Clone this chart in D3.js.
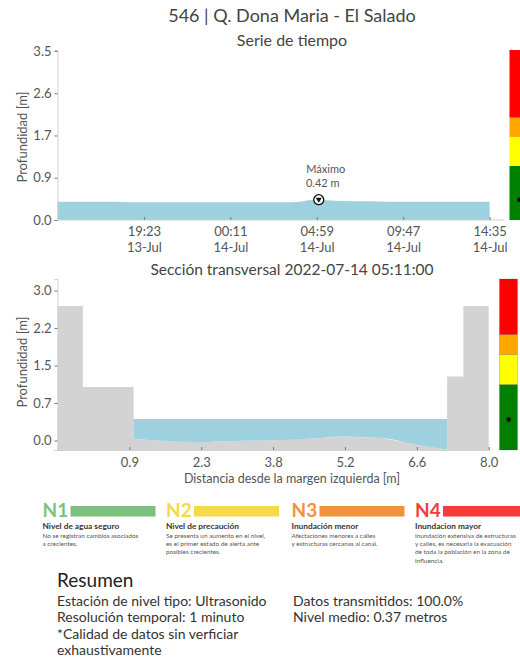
<!DOCTYPE html>
<html><head><meta charset="utf-8">
<script src="https://cdn.jsdelivr.net/npm/d3@7"></script>
<style>
html,body{margin:0;padding:0;background:#fff;overflow:hidden;}
svg{display:block;font-family:Lato,"Open Sans",sans-serif;}
</style></head>
<body><svg id="c" width="520" height="660"></svg>
<script>
// ---------- DATA ----------
const seriesTimes = ["2022-07-13T14:35","2022-07-13T15:35","2022-07-13T16:35","2022-07-13T17:35","2022-07-13T18:35","2022-07-13T19:35","2022-07-13T20:35","2022-07-13T21:35","2022-07-13T22:35","2022-07-13T23:35","2022-07-14T00:35","2022-07-14T01:35","2022-07-14T02:35","2022-07-14T03:35","2022-07-14T04:05","2022-07-14T04:30","2022-07-14T04:59","2022-07-14T05:30","2022-07-14T06:00","2022-07-14T07:00","2022-07-14T08:00","2022-07-14T09:00","2022-07-14T10:00","2022-07-14T11:00","2022-07-14T12:00","2022-07-14T13:00","2022-07-14T14:00","2022-07-14T14:35"];
const seriesDepth = [0.38,0.38,0.38,0.38,0.37,0.37,0.37,0.37,0.37,0.37,0.37,0.37,0.37,0.37,0.38,0.41,0.42,0.41,0.40,0.39,0.39,0.38,0.38,0.38,0.38,0.38,0.38,0.38];
const timeTickValues = ["2022-07-13T19:23","2022-07-14T00:11","2022-07-14T04:59","2022-07-14T09:47","2022-07-14T14:35"];
const timeTickLabels1 = ["19:23","00:11","04:59","09:47","14:35"];
const timeTickLabels2 = ["13-Jul","14-Jul","14-Jul","14-Jul","14-Jul"];
const topYTicks = [0, 0.875, 1.75, 2.625, 3.5];
const topYTickLabels = ["0.0","0.9","1.7","2.6","3.5"];
const maxTime = "2022-07-14T04:59";
const maxValue = 0.42;

// cross-section terrain (distance m, elevation m)
const terrainX = [-0.5, 0.0, 0.0, 1.0, 1.0, 1.6, 2.3, 3.0, 3.7, 4.7, 5.1, 5.9, 6.5, 7.18, 7.18, 7.5, 7.5, 8.0];
const terrainZ = [2.69, 2.69, 1.07, 1.07, 0.03, -0.01, -0.03, -0.01, 0.0, 0.05, 0.08, 0.05, -0.07, -0.18, 1.28, 1.28, 2.69, 2.69];
const channelX = [1.0, 1.6, 2.3, 3.0, 3.7, 4.7, 5.1, 5.9, 6.5, 7.18];
const channelZ = [0.03, -0.01, -0.03, -0.01, 0.0, 0.05, 0.08, 0.05, -0.07, -0.18];
const waterLevel = 0.43;
const secXTicks = [0.9167, 2.3333, 3.75, 5.1667, 6.5833, 8.0];
const secXTickLabels = ["0.9","2.3","3.8","5.2","6.6","8.0"];
const secYTicks = [0, 0.75, 1.5, 2.25, 3.0];
const secYTickLabels = ["0.0","0.7","1.5","2.2","3.0"];

// alert thresholds (m)
const levelNames = ["N1","N2","N3","N4"];
const levelBounds = [1.12, 1.72, 2.12];
const barColors = ["#008000","#ffff00","#ffa500","#ff0000"];
const legendColors = ["#7cc17a","#f8d846","#f0923a","#f53b3b"];
const legendTitles = ["Nivel de agua seguro","Nivel de precaución","Inundación menor","Inundacion mayor"];
const legendDesc = [
  ["No se registran cambios asociados","a crecientes."],
  ["Se presenta un aumento en el nivel,","es el primer estado de alerta ante","posibles crecientes."],
  ["Afectaciones menores a calles","y estructuras cercanas al canal."],
  ["Inundación extensiva de estructuras","y calles, es necesaria la evacuación","de toda la población en la zona de","influencia."]
];
const summaryLeft = ["Estación de nivel tipo: Ultrasonido","Resolución temporal: 1 minuto","*Calidad de datos sin verficiar","exhaustivamente"];
const summaryRight = ["Datos transmitidos: 100.0%","Nivel medio: 0.37 metros"];

// ---------- DRAW ----------
const svg = d3.select("#c");
const parse = d3.timeParse("%Y-%m-%dT%H:%M");
const txtCol = "#444", tickCol = "#555", axisCol = "#d0d0d0";

svg.append("text").attr("x",292).attr("y",22).attr("text-anchor","middle")
  .attr("font-size",18).attr("fill",txtCol).text("546 | Q. Dona Maria - El Salado");
svg.append("text").attr("x",292).attr("y",46).attr("text-anchor","middle")
  .attr("font-size",16).attr("fill",txtCol).text("Serie de tiempo");

// ---- top chart ----
const x1 = d3.scaleTime().domain([parse("2022-07-13T14:35"), parse("2022-07-14T15:23")]).range([57.5, 504]);
const y1 = d3.scaleLinear().domain([0, 3.52]).range([220, 50]);
const ts = seriesTimes.map((t,i)=>({t:parse(t), v:seriesDepth[i]}));
svg.append("path").datum(ts).attr("fill","#9ed1e0")
  .attr("d", d3.area().x(d=>x1(d.t)).y0(y1(0)).y1(d=>y1(d.v)));

const gy1 = svg.append("g").attr("transform","translate(57.5,0)")
  .call(d3.axisLeft(y1).tickValues(topYTicks).tickFormat((d,i)=>topYTickLabels[i]).tickSize(3).tickPadding(3));
const gx1 = svg.append("g").attr("transform","translate(0,220)")
  .call(d3.axisBottom(x1).tickValues(timeTickValues.map(parse)).tickFormat(()=>"").tickSize(-3));
gx1.selectAll(".tick").each(function(d,i){
  const t = d3.select(this);
  t.append("text").attr("y",16).attr("fill",tickCol).attr("font-size",13).attr("text-anchor","middle").text(timeTickLabels1[i]);
  t.append("text").attr("y",32).attr("fill",tickCol).attr("font-size",13).attr("text-anchor","middle").text(timeTickLabels2[i]);
});

// max marker
const mx = x1(parse(maxTime)), my = y1(maxValue);
svg.append("circle").attr("cx",mx+2).attr("cy",my).attr("r",5).attr("fill","#fff").attr("stroke","#111").attr("stroke-width",1.3);
svg.append("path").attr("d",`M${mx+2-3},${my-2}L${mx+2+3},${my-2}L${mx+2},${my+3}Z`).attr("fill","#111");
svg.append("text").attr("x",mx+9).attr("y",my-27).attr("text-anchor","middle").attr("font-size",11).attr("fill",tickCol).text("Máximo");
svg.append("text").attr("x",mx+6).attr("y",my-13).attr("text-anchor","middle").attr("font-size",11).attr("fill",tickCol).text(maxValue.toFixed(2)+" m");

// y label
svg.append("text").attr("transform","translate(27,137) rotate(-90)").attr("text-anchor","middle")
  .attr("font-size",13).attr("fill",tickCol).text("Profundidad [m]");

function colorBar(yScale, x, w, lo, hi, dotX, withStroke){
  const edges = [lo, ...levelBounds, hi];
  for(let i=0;i<4;i++){
    svg.append("rect").attr("x",x).attr("width",w)
      .attr("y",yScale(edges[i+1])).attr("height",yScale(edges[i])-yScale(edges[i+1]))
      .attr("fill",barColors[i]).attr("stroke",withStroke?"rgba(60,60,60,0.35)":"none").attr("stroke-width",0.6);
  }
  svg.append("circle").attr("cx",dotX).attr("cy",yScale(maxValue)).attr("r",2.2).attr("fill","#000");
}
colorBar(y1, 509.5, 20, 0, 3.52, 519.5, false);

// ---- section chart ----
svg.append("text").attr("x",292).attr("y",275).attr("text-anchor","middle")
  .attr("font-size",15.5).attr("fill",txtCol).text("Sección transversal 2022-07-14 05:11:00");

const x2 = d3.scaleLinear().domain([-0.5, 8.0]).range([57.5, 488.7]);
const y2 = d3.scaleLinear().domain([-0.19, 3.23]).range([450, 279]);
const terr = terrainX.map((x,i)=>[x, terrainZ[i]]);
svg.append("path").datum(terr).attr("fill","#d3d3d3")
  .attr("d", d3.area().x(d=>x2(d[0])).y0(y2(-0.19)).y1(d=>y2(d[1])));
const chan = channelX.map((x,i)=>[x, channelZ[i]]);
svg.append("path").datum(chan).attr("fill","#9ed1e0")
  .attr("d", d3.area().curve(d3.curveMonotoneX).x(d=>x2(d[0])).y0(d=>y2(d[1])).y1(y2(waterLevel)));

svg.append("g").attr("transform","translate(57.5,0)")
  .call(d3.axisLeft(y2).tickValues(secYTicks).tickFormat((d,i)=>secYTickLabels[i]).tickSize(3).tickPadding(3));
svg.append("g").attr("transform","translate(0,450)")
  .call(d3.axisBottom(x2).tickValues(secXTicks).tickFormat((d,i)=>secXTickLabels[i]).tickSize(-3).tickPadding(8));
svg.append("text").attr("transform","translate(27,362) rotate(-90)").attr("text-anchor","middle")
  .attr("font-size",13).attr("fill",tickCol).text("Profundidad [m]");
svg.append("text").attr("x",292).attr("y",483).attr("text-anchor","middle")
  .attr("font-size",12.5).attr("fill",tickCol).text("Distancia desde la margen izquierda [m]");

colorBar(y2, 499.5, 18, -0.19, 3.23, 508.5, true);

// axis styling
svg.selectAll(".domain").attr("stroke",axisCol);
svg.selectAll(".tick line").attr("stroke","#777");
svg.selectAll(".tick text").attr("fill",tickCol).attr("font-size",13).attr("font-family","Lato,sans-serif");
gx1.select(".domain").attr("d","M57.5,0H504");

// ---- legend ----
const legX = [42.5, 166, 291.5, 415];
levelNames.forEach((n,i)=>{
  const g = svg.append("g").attr("transform",`translate(${legX[i]},0)`);
  g.append("text").attr("x",0).attr("y",517).attr("font-size",19).attr("font-weight","bold").attr("fill",legendColors[i]).text(n);
  g.append("rect").attr("x",28).attr("y",506).attr("width",85).attr("height",10.5).attr("fill",legendColors[i]);
  g.append("text").attr("x",0).attr("y",529).attr("font-size",8.3).attr("font-weight","bold").attr("fill","#333").text(legendTitles[i]);
  legendDesc[i].forEach((l,j)=>{
    g.append("text").attr("x",0).attr("y",537.5+j*8.4).attr("font-size",6.4).attr("fill","#555").text(l);
  });
});

// ---- summary ----
svg.append("text").attr("x",57).attr("y",587).attr("font-size",19).attr("fill","#222").text("Resumen");
summaryLeft.forEach((l,i)=>svg.append("text").attr("x",57).attr("y",606+i*16.3).attr("font-size",14).attr("fill","#333").text(l));
summaryRight.forEach((l,i)=>svg.append("text").attr("x",293).attr("y",606+i*16.3).attr("font-size",14).attr("fill","#333").text(l));
</script></body></html>
